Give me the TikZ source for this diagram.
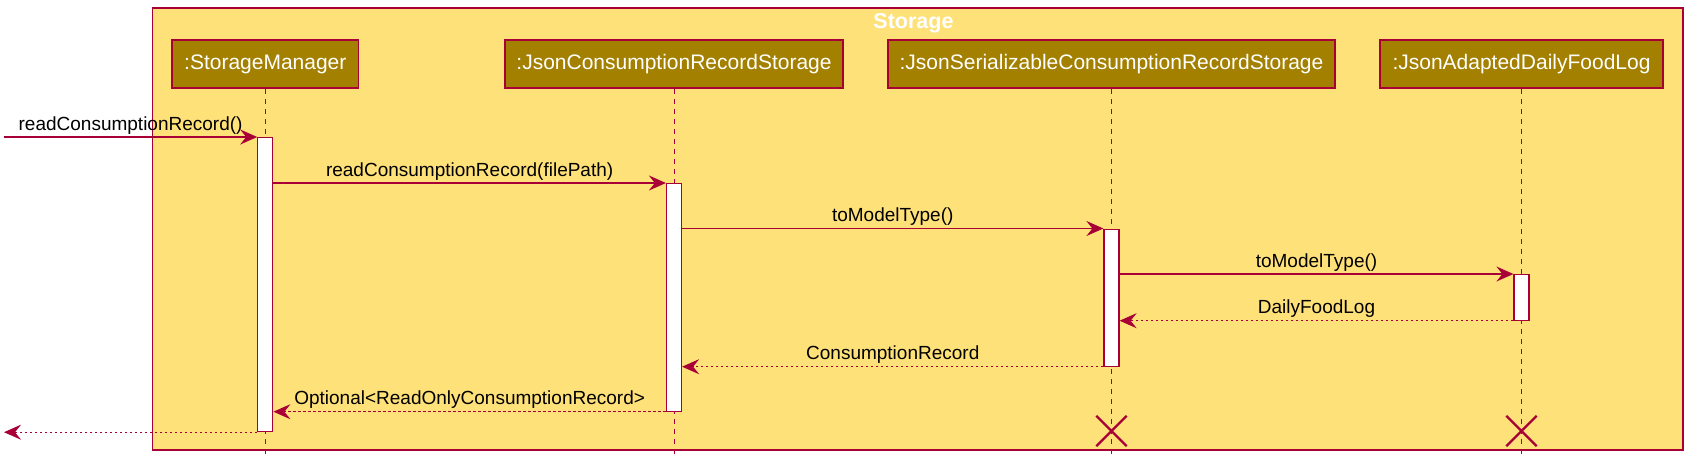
\documentclass[tikz,border=0pt]{standalone}
\usepackage{fontspec}
\setmainfont{Liberation Sans}
\usetikzlibrary{arrows.meta,shapes.misc}
\definecolor{pumlred}{HTML}{A80036}
\definecolor{framefill}{HTML}{FFE17A}
\definecolor{partfill}{HTML}{A38000}
\begin{document}
\begin{tikzpicture}[x=1pt,y=-1pt,
  frame/.style={draw=pumlred, line width=1.5pt, fill=framefill, inner sep=0pt, anchor=north west},
  part/.style={draw=pumlred, line width=1.6pt, fill=partfill, text=white, font=\fontsize{21}{25}\selectfont, minimum height=48pt, inner sep=0pt},
  lifeline/.style={draw=pumlred, line width=0.9pt, dash pattern=on 5pt off 5pt},
  actbar/.style={draw=pumlred, line width=1.2pt, fill=white, minimum width=15pt, inner sep=0pt, anchor=north},
  msg/.style={draw=pumlred, line width=1.2pt, -{Stealth[length=17pt, width=15pt, inset=6pt]}},
  ret/.style={msg, dash pattern=on 2.5pt off 2.5pt},
  lbl/.style={font=\fontsize{19}{23}\selectfont, text=black, anchor=base, yshift=7pt, inner sep=0pt},
  xmark/.style={cross out, draw=pumlred, line width=2.4pt, minimum width=28pt, minimum height=28pt, inner sep=0pt}
]
\useasboundingbox (0,0) rectangle (1698,475);
% frame
\node[frame, minimum width=1530.5pt, minimum height=442pt] (frame) at (151.5,7) {};
\node[font=\bfseries\fontsize{21.5}{25}\selectfont, text=white, inner sep=0pt] (title) at (913.5,23) {Storage};
% lifeline ends
\coordinate (smend) at (265.3,457);
\coordinate (jcrsend) at (674,457);
\coordinate (jscrsend) at (1111.5,457);
\coordinate (jadflend) at (1521.5,457);
% participants
\node[part, minimum width=186.6pt] (sm) at (265.3,64) {:StorageManager};
\node[part, minimum width=338pt] (jcrs) at (674,64) {:JsonConsumptionRecordStorage};
\node[part, minimum width=447pt] (jscrs) at (1111.5,64) {:JsonSerializableConsumptionRecordStorage};
\node[part, minimum width=283pt] (jadfl) at (1521.5,64) {:JsonAdaptedDailyFoodLog};
% lifelines
\draw[lifeline] (sm.south) -- (smend);
\draw[lifeline] (jcrs.south) -- (jcrsend);
\draw[lifeline] (jscrs.south) -- (jscrsend);
\draw[lifeline] (jadfl.south) -- (jadflend);
% activation bars
\node[actbar, minimum height=294pt] (smbar) at (265.3,137) {};
\node[actbar, minimum height=227.5pt] (jcrsbar) at (674,183) {};
\node[actbar, minimum height=137pt] (jscrsbar) at (1111.5,228.5) {};
\node[actbar, minimum height=45.5pt] (jadflbar) at (1521.5,274) {};
% external endpoints
\coordinate (in1) at (4,137);
\coordinate (out1) at (4,431);
% messages
\draw[msg] (in1 |- smbar.north) -- (smbar.north west) node[lbl, midway] (l1) {readConsumptionRecord()};
\draw[msg] (smbar.east |- jcrsbar.north) -- (jcrsbar.north west) node[lbl, midway] (l2) {readConsumptionRecord(filePath)};
\draw[msg] (jcrsbar.east |- jscrsbar.north) -- (jscrsbar.north west) node[lbl, midway] (l3) {toModelType()};
\draw[msg] (jscrsbar.east |- jadflbar.north) -- (jadflbar.north west) node[lbl, midway] (l4) {toModelType()};
\draw[ret] (jadflbar.south west) -- (jscrsbar.east |- jadflbar.south) node[lbl, midway] (l5) {DailyFoodLog};
\draw[ret] (jscrsbar.south west) -- (jcrsbar.east |- jscrsbar.south) node[lbl, midway] (l6) {ConsumptionRecord};
\draw[ret] (jcrsbar.south west) -- (smbar.east |- jcrsbar.south) node[lbl, midway] (l7) {Optional<ReadOnlyConsumptionRecord>};
\draw[ret] (smbar.south west) -- (out1 |- smbar.south);
% destroy marks
\node[xmark] (x1) at (1111.5,431) {};
\node[xmark] (x2) at (1521.5,431) {};
\end{tikzpicture}
\end{document}
